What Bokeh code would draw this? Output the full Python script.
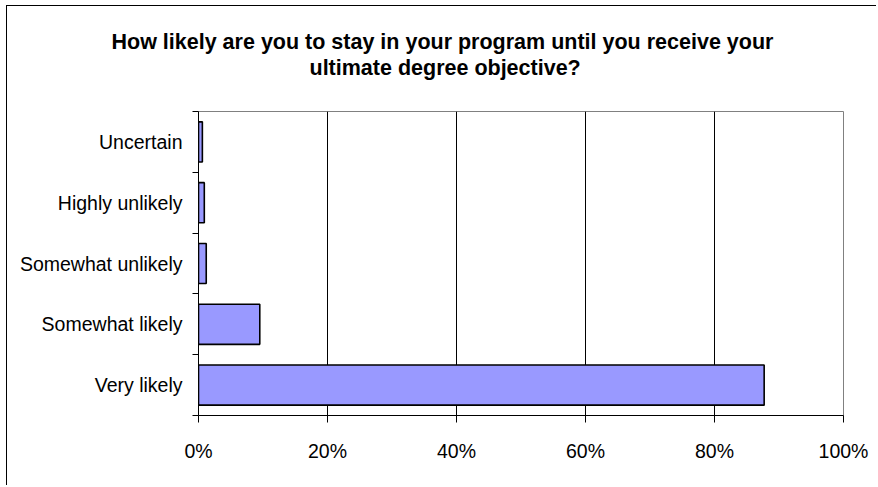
from bokeh.plotting import figure
from bokeh.models import Range1d, FixedTicker, NumeralTickFormatter, Title, ColumnDataSource
from bokeh.embed import file_html
from bokeh.resources import INLINE

# Data (bottom to top)
categories = ["Very likely", "Somewhat likely", "Somewhat unlikely", "Highly unlikely", "Uncertain"]
values = [87.7, 9.5, 1.2, 0.9, 0.6]  # percent
x_ticks = [0, 0.2, 0.4, 0.6, 0.8, 1.0]
title_lines = ["How likely are you to stay in your program until you receive your",
               "ultimate degree objective?"]

ypos = [i + 0.5 for i in range(len(categories))]
src = ColumnDataSource(dict(y=ypos, right=[v / 100 for v in values], cat=categories))

FONT = "Liberation Sans"

p = figure(width=870, height=480, output_backend="svg", toolbar_location=None,
           x_range=Range1d(0, 1), y_range=Range1d(0, len(categories)),
           min_border_left=191, min_border_right=34, min_border_top=105, min_border_bottom=71,
           background_fill_color="white", border_fill_color="white")
p.styles = {"border-left": "1px solid black", "border-top": "1px solid black",
            "margin-left": "6px", "margin-top": "5px"}

p.hbar(y="y", left=0, right="right", height=0.66, source=src,
       fill_color="#9999FF", line_color="black", line_width=1.6)

# Title: two lines, each centred on the chart (left-aligned titles with offsets)
title_kw = dict(align="left", vertical_align="bottom", text_font=FONT,
                text_font_size="21.5px", text_font_style="bold", text_color="black")
# spacer between title and plot area
p.add_layout(Title(text=" ", text_font_size="1px", standoff=29, align="left"), "above")
p.add_layout(Title(text=title_lines[1], offset=111, standoff=0, **title_kw), "above")
p.add_layout(Title(text=title_lines[0], offset=-87, standoff=0, **title_kw), "above")

# X axis
xa = p.xaxis[0]
xa.ticker = FixedTicker(ticks=x_ticks)
xa.formatter = NumeralTickFormatter(format="0%")
xa.major_label_text_font = FONT
xa.major_label_text_font_size = "19.5px"
xa.major_label_text_color = "black"
xa.axis_line_color = "black"
xa.major_tick_line_color = "black"
xa.major_tick_out = 7
xa.major_tick_in = 0
xa.minor_tick_line_color = None
xa.major_label_standoff = 17

# Y axis: labels at category centres, tick marks at boundaries
ya = p.yaxis[0]
ya.ticker = FixedTicker(ticks=ypos, minor_ticks=list(range(len(categories) + 1)))
ya.major_label_overrides = {y: c for y, c in zip(ypos, categories)}
ya.major_label_text_font = FONT
ya.major_label_text_font_size = "19.5px"
ya.major_label_text_color = "black"
ya.axis_line_color = "black"
ya.major_tick_line_color = None
ya.major_tick_out = 0
ya.major_tick_in = 0
ya.minor_tick_line_color = "black"
ya.minor_tick_out = 6
ya.minor_tick_in = 0
ya.major_label_standoff = 10

p.xgrid.ticker = FixedTicker(ticks=x_ticks)
p.xgrid.grid_line_color = "black"
p.xgrid.grid_line_width = 1
p.ygrid.grid_line_color = None
p.outline_line_color = "#808080"
p.outline_line_width = 1

open("out.html", "w").write(file_html(p, INLINE))
